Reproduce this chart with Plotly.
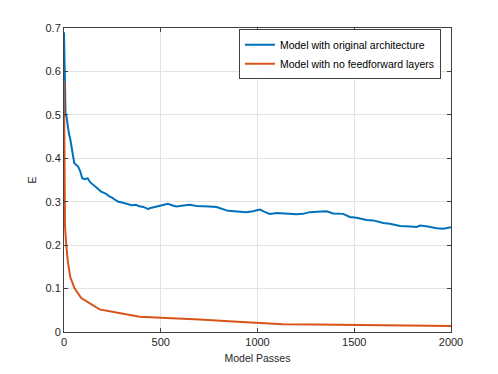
import plotly.graph_objects as go

# values
passes_orig = [0, 3, 8, 13, 20, 25, 32, 39, 46, 53, 62, 73, 84, 94, 108, 122, 135, 149, 160,
               175, 192, 203, 218, 235, 246, 262, 280, 300, 322, 332, 350, 373, 384, 410,
               436, 443, 465, 488, 512, 537, 558, 580, 598, 625, 650, 685, 718, 750, 788,
               820, 848, 880, 908, 943, 976, 1012, 1040, 1063, 1100, 1132, 1170, 1202, 1235,
               1270, 1310, 1357, 1391, 1443, 1477, 1512, 1564, 1598, 1650, 1684, 1736, 1753,
               1790, 1823, 1840, 1880, 1926, 1960, 1995, 2000]
e_orig = [0.69, 0.56, 0.50, 0.496, 0.47, 0.458, 0.445, 0.427, 0.41, 0.389, 0.385, 0.381,
          0.37, 0.354, 0.352, 0.354, 0.345, 0.339, 0.335, 0.33, 0.323, 0.321, 0.318, 0.312,
          0.31, 0.305, 0.300, 0.298, 0.296, 0.295, 0.292, 0.293, 0.290, 0.288, 0.283, 0.285,
          0.287, 0.289, 0.291, 0.295, 0.292, 0.289, 0.290, 0.291, 0.293, 0.290, 0.290, 0.289,
          0.288, 0.284, 0.279, 0.278, 0.277, 0.276, 0.278, 0.282, 0.276, 0.272, 0.274, 0.273,
          0.272, 0.271, 0.272, 0.276, 0.277, 0.278, 0.273, 0.272, 0.265, 0.263, 0.258, 0.257,
          0.251, 0.249, 0.244, 0.244, 0.243, 0.242, 0.245, 0.243, 0.239, 0.238, 0.242, 0.241]

passes_noff = [0, 1, 2, 5, 11, 20, 32, 54, 89, 132, 184, 270, 391, 529, 701, 874, 960,
               1131, 1300, 1477, 1700, 1995, 2000]
e_noff = [0.578, 0.40, 0.30, 0.245, 0.204, 0.162, 0.127, 0.101, 0.078, 0.066, 0.052, 0.045,
          0.035, 0.032, 0.029, 0.024, 0.022, 0.018, 0.017, 0.016, 0.015, 0.014, 0.014]

y_ticks = [0, 0.1, 0.2, 0.3, 0.4, 0.5, 0.6, 0.7]
x_ticks = [0, 500, 1000, 1500, 2000]

fig = go.Figure()
fig.add_trace(go.Scatter(x=passes_orig, y=e_orig, mode="lines",
                         name="Model with original architecture",
                         line=dict(color="#0072BD", width=2)))
fig.add_trace(go.Scatter(x=passes_noff, y=e_noff, mode="lines",
                         name="Model with no feedforward layers",
                         line=dict(color="#D95319", width=2)))

axis_style = dict(showline=True, linecolor="#404040", linewidth=1, mirror="ticks",
                  ticks="inside", ticklen=4, tickcolor="#404040",
                  showgrid=True, gridcolor="#e3e3e3", gridwidth=1, zeroline=False,
                  tickfont=dict(size=11, color="#262626"))

fig.update_xaxes(range=[0, 2000], tickvals=x_ticks,
                 title=dict(text="Model Passes", font=dict(size=10.5, color="#262626"),
                            standoff=7),
                 **axis_style)
fig.update_yaxes(range=[0, 0.7], tickvals=y_ticks, ticktext=[f"{v:g}" for v in y_ticks],
                 title=dict(text="E", font=dict(size=11, color="#262626"), standoff=6),
                 **axis_style)

# page body adds ~8px offset, so the figure is a bit smaller than the window
fig.update_layout(
    width=490, height=366,
    margin=dict(l=56, r=47, t=20, b=42),
    paper_bgcolor="white", plot_bgcolor="white",
    font=dict(family="Liberation Sans, Arial, sans-serif", color="#262626"),
    legend=dict(x=0.974, y=0.996, xanchor="right", yanchor="top",
                bgcolor="white", bordercolor="#404040", borderwidth=1,
                font=dict(size=10.5, color="#000000"), tracegroupgap=0,
                itemwidth=30),
    showlegend=True,
)

fig.write_html("out.html")
